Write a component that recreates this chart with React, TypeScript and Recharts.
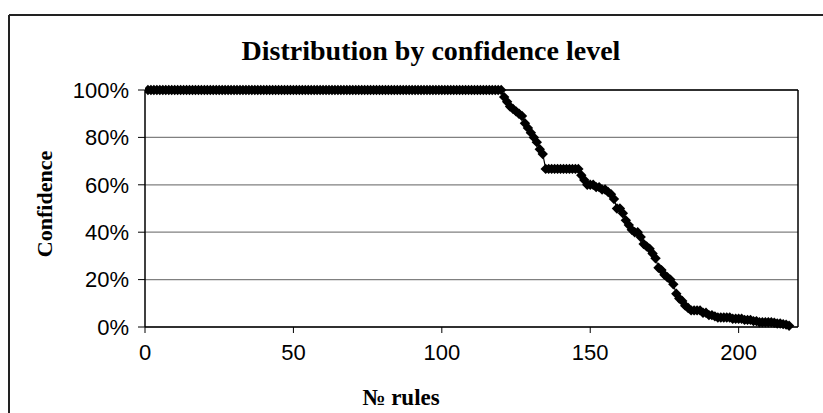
import React from 'react';
import {
  ScatterChart,
  Scatter,
  XAxis,
  YAxis,
  CartesianGrid,
  ReferenceLine,
} from 'recharts';

const chartTitle = 'Distribution by confidence level';
const xAxisTitle = '№ rules';
const yAxisTitle = 'Confidence';

const xTicks = [0, 50, 100, 150, 200];
const yTicks = [0, 0.2, 0.4, 0.6, 0.8, 1];

// confidence of rules 1..120 (all 100%)
const confidenceTop = [
  1, 1, 1, 1, 1, 1, 1, 1, 1, 1, 1, 1, 1, 1, 1, 1, 1, 1, 1, 1,
  1, 1, 1, 1, 1, 1, 1, 1, 1, 1, 1, 1, 1, 1, 1, 1, 1, 1, 1, 1,
  1, 1, 1, 1, 1, 1, 1, 1, 1, 1, 1, 1, 1, 1, 1, 1, 1, 1, 1, 1,
  1, 1, 1, 1, 1, 1, 1, 1, 1, 1, 1, 1, 1, 1, 1, 1, 1, 1, 1, 1,
  1, 1, 1, 1, 1, 1, 1, 1, 1, 1, 1, 1, 1, 1, 1, 1, 1, 1, 1, 1,
  1, 1, 1, 1, 1, 1, 1, 1, 1, 1, 1, 1, 1, 1, 1, 1, 1, 1, 1, 1,
];

// confidence of rules 121..217
const confidenceTail = [
  0.97, 0.95, 0.93, 0.92, 0.91, 0.9, 0.89, 0.86, 0.84, 0.82,
  0.8, 0.78, 0.75, 0.73, 0.667, 0.667, 0.667, 0.667, 0.667, 0.667,
  0.667, 0.667, 0.667, 0.667, 0.667, 0.667, 0.64, 0.62, 0.6, 0.6,
  0.6, 0.59, 0.59, 0.58, 0.58, 0.57, 0.56, 0.54, 0.5, 0.5,
  0.48, 0.45, 0.43, 0.41, 0.4, 0.4, 0.38, 0.35, 0.34, 0.33,
  0.31, 0.29, 0.25, 0.24, 0.22, 0.21, 0.2, 0.18, 0.14, 0.12,
  0.11, 0.09, 0.08, 0.07, 0.07, 0.07, 0.07, 0.06, 0.06, 0.05,
  0.05, 0.045, 0.04, 0.04, 0.04, 0.04, 0.04, 0.035, 0.035, 0.035,
  0.035, 0.03, 0.03, 0.03, 0.025, 0.025, 0.02, 0.02, 0.02, 0.02,
  0.02, 0.018, 0.015, 0.015, 0.012, 0.01, 0.005,
];

const confidence = [...confidenceTop, ...confidenceTail];
const data = confidence.map((v, i) => ({ rule: i + 1, conf: v }));

const Diamond = (props: any) => {
  const { cx, cy } = props;
  if (cx == null || cy == null) return null;
  const r = 5.2;
  return (
    <path
      d={`M${cx},${cy - r}L${cx + r},${cy}L${cx},${cy + r}L${cx - r},${cy}Z`}
      fill="#000"
      stroke="none"
    />
  );
};

const tickStyle = { fontFamily: '"Liberation Sans", Arial, sans-serif', fontSize: 22, fill: '#000' };
const serif = '"Liberation Serif", "Times New Roman", serif';

export default function App() {
  return (
    <div style={{ position: 'absolute', left: 0, top: 0, width: 823, height: 413, background: '#fff', overflow: 'hidden' }}>
      <ScatterChart width={823} height={413} margin={{ top: 90, right: 25, bottom: 0, left: 0 }}>
        <CartesianGrid vertical={false} stroke="#808080" strokeWidth={1.2} />
        <XAxis
          type="number"
          dataKey="rule"
          domain={[0, 220]}
          ticks={xTicks}
          height={86}
          axisLine={{ stroke: '#000', strokeWidth: 1.5 }}
          tickLine={{ stroke: '#000' }}
          tickSize={6}
          tickMargin={11}
          tick={tickStyle}
          allowDataOverflow
        />
        <YAxis
          type="number"
          dataKey="conf"
          domain={[0, 1]}
          ticks={yTicks}
          width={145}
          axisLine={{ stroke: '#000', strokeWidth: 1.5 }}
          tickLine={{ stroke: '#000' }}
          tickSize={7}
          tickMargin={9}
          tick={tickStyle}
          tickFormatter={(v: number) => `${Math.round(v * 100)}%`}
        />
        <ReferenceLine y={1} stroke="#000" strokeWidth={1.5} />
        <ReferenceLine x={220} stroke="#000" strokeWidth={1.5} />
        <Scatter
          data={data}
          line={{ stroke: '#000', strokeWidth: 1.2 }}
          shape={<Diamond />}
          isAnimationActive={false}
        />
      </ScatterChart>
      <svg
        width={823}
        height={413}
        style={{ position: 'absolute', left: 0, top: 0, pointerEvents: 'none' }}
      >
        <line x1={9} y1={15} x2={830} y2={15} stroke="#222" strokeWidth={2} />
        <line x1={9} y1={15} x2={9} y2={420} stroke="#222" strokeWidth={2} />
        <text x={431} y={60} textAnchor="middle" fontFamily={serif} fontWeight="bold" fontSize={28} fill="#000">
          {chartTitle}
        </text>
        <text
          x={52}
          y={204}
          textAnchor="middle"
          fontFamily={serif}
          fontWeight="bold"
          fontSize={22}
          fill="#000"
          transform="rotate(-90 52 204)"
        >
          {yAxisTitle}
        </text>
        <text x={401} y={405} textAnchor="middle" fontFamily={serif} fontWeight="bold" fontSize={23} fill="#000">
          {xAxisTitle}
        </text>
      </svg>
    </div>
  );
}
